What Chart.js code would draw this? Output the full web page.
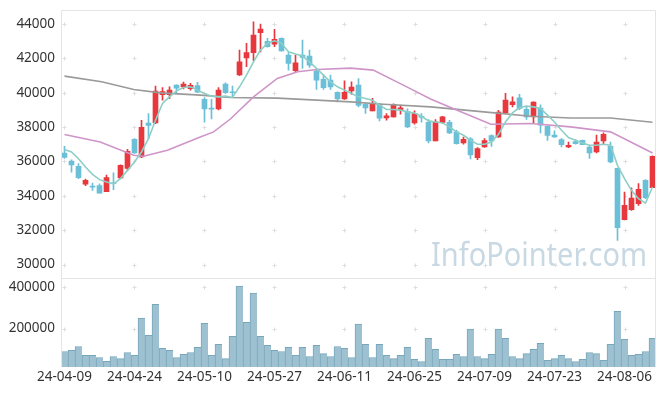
<!DOCTYPE html>
<html>
<head>
<meta charset="utf-8">
<script src="https://cdn.jsdelivr.net/npm/chart.js@4.4.1/dist/chart.umd.min.js"></script>
<style>
  html, body { margin: 0; padding: 0; background: #fff; }
  #wrap { width: 665px; height: 396px; }
</style>
</head>
<body>
<div id="wrap"><canvas id="chart"></canvas></div>
<script>
const dates = [
  '24-04-09','24-04-11','24-04-12','24-04-15','24-04-16','24-04-17','24-04-18','24-04-19','24-04-22','24-04-23',
  '24-04-24','24-04-25','24-04-26','24-04-29','24-04-30','24-05-02','24-05-03','24-05-07','24-05-08','24-05-09',
  '24-05-10','24-05-13','24-05-14','24-05-16','24-05-17','24-05-20','24-05-21','24-05-22','24-05-23','24-05-24',
  '24-05-27','24-05-28','24-05-29','24-05-30','24-05-31','24-06-03','24-06-04','24-06-05','24-06-07','24-06-10',
  '24-06-11','24-06-12','24-06-13','24-06-14','24-06-17','24-06-18','24-06-19','24-06-20','24-06-21','24-06-24',
  '24-06-25','24-06-26','24-06-27','24-06-28','24-07-01','24-07-02','24-07-03','24-07-04','24-07-05','24-07-08',
  '24-07-09','24-07-10','24-07-11','24-07-12','24-07-15','24-07-16','24-07-17','24-07-18','24-07-19','24-07-22',
  '24-07-23','24-07-24','24-07-25','24-07-26','24-07-29','24-07-30','24-07-31','24-08-01','24-08-02','24-08-05',
  '24-08-06','24-08-07','24-08-08','24-08-09','24-08-12'
];

const open = [
  36480,36020,35720,34670,34560,34600,34240,34760,35040,35600,
  37290,36260,38240,38240,39880,39880,40440,40340,40230,40420,
  39610,39100,39060,40500,40050,41040,42030,42330,43490,42990,
  42830,43170,42190,41280,42190,42130,41260,40780,40730,40030,
  39640,40110,40440,39330,38940,39330,38530,38590,39000,38900,
  38240,38630,38280,37200,38270,38280,37720,37080,37310,36220,
  36840,37510,37430,38830,39300,39700,39040,38590,39100,38050,
  37540,37270,36840,37160,37230,36840,36550,37190,36880,35600,
  32610,33190,33540,34900,34470
];
const high = [
  36880,36100,35880,34980,34740,34700,35210,35330,35800,36710,
  37330,38400,38790,40380,40300,40340,40460,40620,40540,40600,
  39720,39610,40300,40580,40380,42480,42870,44130,44000,43170,
  43690,43200,42330,42190,43070,42480,41320,41030,41030,40050,
  40690,40630,40830,39380,39670,39350,38790,39350,39280,39060,
  38940,38790,38440,38440,38630,38400,37820,37420,37390,36810,
  37330,37550,38980,39960,39760,39900,39170,39470,39300,38080,
  37780,37330,37130,37270,37240,36880,37540,37660,37130,35620,
  34220,34470,34710,34940,36330
];
const low = [
  36180,35380,35000,34590,34320,34160,34240,34350,35000,35480,
  36470,36220,37330,38200,39570,39650,39960,40220,40150,40000,
  38280,38470,39000,39960,39720,41000,41510,41860,42380,42650,
  42680,42420,41320,41220,41420,41470,40190,40190,40190,39470,
  39610,39900,39170,38790,38940,38360,38400,38580,38750,37970,
  38170,38280,37080,37190,38210,37620,37000,37000,36140,36110,
  36810,36880,37400,38800,39180,39020,38440,38210,37660,37230,
  37400,36840,36800,37000,36980,36170,36490,37000,35910,31400,
  32600,33150,33440,33830,34470
];
const close = [
  36240,35800,35060,34900,34500,34160,35060,34700,35780,36590,
  36490,37980,38090,40090,40070,40150,40270,40500,40430,40030,
  39060,39050,40150,40000,40000,41800,42330,43360,43710,42680,
  43110,42440,41710,41740,42050,41610,40730,40290,40340,39640,
  40030,40330,39260,39120,39330,38520,38650,39330,39120,38010,
  38790,38560,37200,38300,38590,37660,37040,37290,36380,36750,
  37220,37190,38870,39570,39470,39080,38590,39450,38110,37510,
  37430,36980,36940,37040,36980,36490,37120,37580,35970,32140,
  33440,33870,34380,33890,36300
];
const volume = [
  90000,95000,114000,71000,71000,61000,43000,66000,56000,85000,
  71000,250000,168000,317000,105000,95000,61000,76000,85000,110000,
  225000,71000,124000,56000,163000,404000,230000,370000,163000,119000,
  95000,90000,110000,71000,110000,66000,119000,80000,66000,114000,
  105000,61000,221000,124000,61000,124000,71000,56000,71000,110000,
  52000,42000,153000,100000,52000,52000,76000,66000,197000,66000,
  56000,76000,197000,153000,66000,56000,80000,100000,129000,47000,
  56000,71000,56000,42000,52000,85000,80000,47000,124000,283000,
  148000,71000,76000,90000,153000
];

// moving averages
const ma5 = [
  36690,36550,36160,35675,35250,34940,34800,34700,35000,35480,35970,36550,37330,38400,39375,39760,40110,
  40305,40345,40150,39958,39800,39760,39800,39725,40345,41025,41800,42483,42875,43025,42875,42385,42250,
  42133,41800,41415,41025,40635,40345,40150,39958,39760,39667,39567,39275,39025,39025,38985,38885,38825,
  38633,38360,38300,38243,38010,37720,37525,37233,37000,37000,37133,37583,38300,38825,39140,39217,39175,
  39083,38692,38300,37817,37390,37233,37078,36942,36942,37000,36942,35775,35000,34317,33833,33575,34510
];
const ma20At = [0, 5.1, 9.9, 11.3, 14.7, 19.4, 21.3, 23.7, 27, 30.4, 33.3, 36.1, 40.9, 44.1, 48.4, 52.3, 56.1, 60.9, 66.6, 72.3, 78, 80.9, 84];
const ma20 = [37565, 37135, 36358, 36300, 36650, 37425, 37720, 38470, 39760, 40830, 41217, 41355, 41433, 41317, 40442, 39630, 38983, 38167, 38208, 38010, 37720, 37135, 36493];
const ma60At = [0, 5.3, 9.9, 13.7, 19.4, 23.7, 30.4, 40.9, 45.6, 52.3, 59.9, 66.6, 72.3, 78, 84];
const ma60 = [40967, 40635, 40190, 39992, 39858, 39725, 39683, 39470, 39333, 39175, 38885, 38633, 38533, 38533, 38283];

const priceTicks = [30000, 32000, 34000, 36000, 38000, 40000, 42000, 44000];
const volumeTicks = [200000, 400000];
const labelEvery = 10;
const watermark = 'InfoPointer.com';

const UP = '#e8383d';
const DOWN = '#6bc0d8';
const candleColor = open.map((o, i) => close[i] >= o ? UP : DOWN);
const xTicks = dates.map((d, i) => i).filter(i => i % labelEvery === 0);

const tickFont = { family: '"Noto Sans", sans-serif', size: 13.5 };

const decorations = {
    id: 'decorations',
    beforeDatasetsDraw(chart) {
        const { ctx, chartArea, scales } = chart;
        ctx.save();
        ctx.font = '32px "Noto Sans"';
        ctx.fillStyle = '#c8d9e3';
        const w = ctx.measureText(watermark).width;
        ctx.translate(431, 266);
        ctx.scale(216 / w, 1);
        ctx.fillText(watermark, 0, 0);
        ctx.restore();

        ctx.save();
        ctx.strokeStyle = '#e4e4e4';
        ctx.lineWidth = 1;
        ctx.beginPath();
        ctx.moveTo(chartArea.left - 0.5, chartArea.bottom);
        ctx.lineTo(chartArea.left - 0.5, chartArea.top + 0.5);
        ctx.lineTo(chartArea.right + 0.5, chartArea.top + 0.5);
        ctx.lineTo(chartArea.right + 0.5, chartArea.bottom);
        const div = Math.floor(scales.y.bottom) + 0.5;
        ctx.moveTo(chartArea.left, div);
        ctx.lineTo(chartArea.right, div);
        ctx.stroke();

        // small crosses at the grid intersections
        ctx.strokeStyle = '#dedede';
        const crosses = (scale, values) => {
            xTicks.forEach(i => {
                const px = Math.round(scales.x.getPixelForValue(i)) + 0.5;
                values.forEach(v => {
                    const py = Math.round(scale.getPixelForValue(v)) + 0.5;
                    ctx.beginPath();
                    ctx.moveTo(px - 2, py);
                    ctx.lineTo(px + 2, py);
                    ctx.moveTo(px, py - 2);
                    ctx.lineTo(px, py + 2);
                    ctx.stroke();
                });
            });
        };
        crosses(scales.y, priceTicks);
        crosses(scales.vol, volumeTicks);
        ctx.restore();
    }
};

const fixWidth = (scale) => {
    scale.width = 62;
    scale.paddingTop = 0;
    scale.paddingBottom = 0;
};

new Chart(document.getElementById('chart'), {
    type: 'bar',
    data: {
        datasets: [
            {
                type: 'line',
                label: 'MA5',
                data: ma5.map((v, i) => ({ x: i, y: v })),
                borderColor: '#8dcfc6',
                borderWidth: 1.6,
                pointRadius: 0,
                yAxisID: 'y',
                order: 0,
            },
            {
                type: 'line',
                label: 'MA20',
                data: ma20.map((v, i) => ({ x: ma20At[i], y: v })),
                borderColor: '#cf95c9',
                borderWidth: 1.6,
                pointRadius: 0,
                yAxisID: 'y',
                order: 0,
            },
            {
                type: 'line',
                label: 'MA60',
                data: ma60.map((v, i) => ({ x: ma60At[i], y: v })),
                borderColor: '#9a9a9a',
                borderWidth: 1.6,
                pointRadius: 0,
                yAxisID: 'y',
                order: 0,
            },
            {
                label: 'wick',
                data: high.map((h, i) => ({ x: i, y: [low[i], h] })),
                backgroundColor: candleColor,
                barThickness: 1,
                grouped: false,
                yAxisID: 'y',
                order: 2,
            },
            {
                label: 'body',
                data: open.map((o, i) => ({ x: i, y: [o, close[i]] })),
                backgroundColor: candleColor,
                barThickness: 5,
                grouped: false,
                yAxisID: 'y',
                order: 1,
            },
            {
                label: 'volume',
                data: volume.map((v, i) => ({ x: i, y: v })),
                backgroundColor: '#9dc1d1',
                borderColor: '#78a7bb',
                borderWidth: { top: 1, left: 1, right: 0, bottom: 0 },
                borderSkipped: false,
                barThickness: 7,
                grouped: false,
                yAxisID: 'vol',
                order: 3,
            },
        ],
    },
    options: {
        responsive: true,
        maintainAspectRatio: false,
        animation: false,
        layout: { padding: { top: 10, right: 10, left: 0, bottom: 0 } },
        plugins: {
            legend: { display: false },
            tooltip: { enabled: false },
        },
        scales: {
            x: {
                type: 'linear',
                offset: false,
                min: -0.357,
                max: 84.357,
                grid: { display: false, drawTicks: false, offset: false },
                border: { display: false },
                afterBuildTicks: (axis) => { axis.ticks = xTicks.map(v => ({ value: v })); },
                afterFit: (axis) => {
                    axis.height = 29;
                    axis.paddingLeft = 0;
                    axis.paddingRight = 0;
                },
                ticks: {
                    autoSkip: false,
                    maxRotation: 0,
                    padding: 2,
                    color: '#333',
                    font: tickFont,
                    callback: (v) => dates[v],
                },
            },
            vol: {
                position: 'left',
                stack: 'panels',
                stackWeight: 88.4,
                min: 15400,
                max: 440400,
                grid: { display: false, drawTicks: false },
                border: { display: false },
                afterBuildTicks: (axis) => { axis.ticks = volumeTicks.map(v => ({ value: v })); },
                afterFit: fixWidth,
                ticks: { padding: 7, color: '#333', font: tickFont, callback: (v) => String(v) },
            },
            y: {
                position: 'left',
                stack: 'panels',
                stackWeight: 268.3,
                min: 29184,
                max: 44816,
                grid: { display: false, drawTicks: false },
                border: { display: false },
                afterBuildTicks: (axis) => { axis.ticks = priceTicks.map(v => ({ value: v })); },
                afterFit: fixWidth,
                ticks: { padding: 7, color: '#333', font: tickFont, callback: (v) => String(v) },
            },
        },
    },
    plugins: [decorations],
});
</script>
</body>
</html>
